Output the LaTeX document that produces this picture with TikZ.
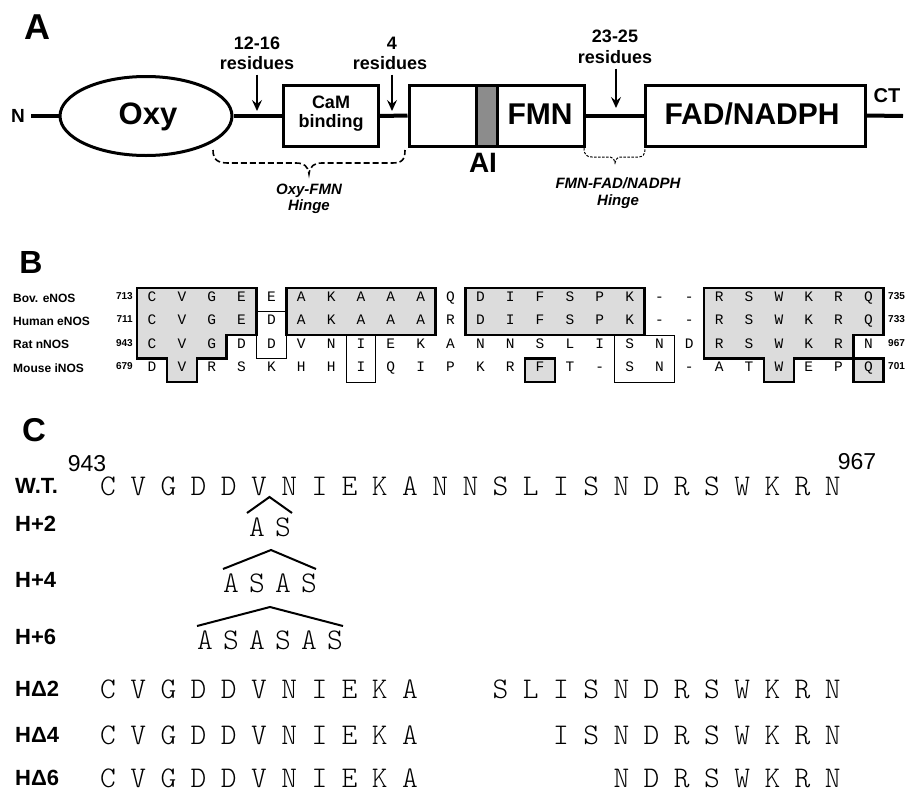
\documentclass[tikz,border=0pt]{standalone}
\usepackage{fontspec}
\setmainfont{Liberation Sans}
\newfontfamily\monoB{Liberation Mono}
\usetikzlibrary{shapes.geometric,arrows.meta}
\definecolor{boxgray}{RGB}{220,220,220}
\definecolor{aigray}{RGB}{140,140,140}
\newcommand\fs[1]{\fontsize{#1}{#1}\selectfont}
\tikzset{
  th/.style={inner sep=0pt, text height={0.72*#1}, text depth=0pt},
  bsf/.style={th=#1, font=\bfseries\fs{#1}},
  isf/.style={th=#1, font=\bfseries\itshape\fs{#1}},
  rsf/.style={th=#1, font=\fs{#1}},
  bb/.style={line width=4pt},
  dom/.style={draw, line width=3pt, fill=white, inner sep=0pt},
  arr/.style={line width=1.5pt, -{Stealth[length=11pt,width=10pt,inset=4pt]}},
  resB/.style={font=\monoB\fs{14.5}, inner sep=0pt, text height=8.2, text depth=0pt, yshift=2.5pt},
  seqC/.style={font=\ttfamily\fontseries{l}\selectfont\fs{30}, inner sep=0pt, text height=18.3, text depth=0pt},
  thickB/.style={line width=2.4pt, line join=miter},
  thinB/.style={line width=1pt},
  rowlab/.style={bsf=12, anchor=west},
  numL/.style={bsf=10, anchor=east},
  numR/.style={bsf=10, anchor=west},
  clab/.style={bsf=22, anchor=west},
  hat/.style={line width=2pt},
}
\begin{document}
\begin{tikzpicture}[x=1pt,y=-1pt]
\useasboundingbox (0,0) rectangle (908,793);

% ---------------- Panel A ----------------
\node[bsf=36] (labA) at (37,27) {A};
\node[bsf=19] (Nterm) at (18,116) {N};
\coordinate (nstart) at (31,116);
\coordinate (cend) at (903,116);

\node[ellipse, draw, line width=3pt, fill=white, minimum width=172pt, minimum height=79pt, inner sep=0pt] (oxy) at (146,116) {};
\node[dom, minimum width=95pt, minimum height=61pt] (cam) at (330.5,116) {};
\node[dom, minimum width=175pt, minimum height=61pt] (fmnbox) at (496.5,115.5) {};
\node[dom, fill=aigray, minimum width=21pt, minimum height=61pt] (aibar) at (486.5,115.5) {};
\node[dom, minimum width=220pt, minimum height=61pt] (fad) at (755,115.5) {};

\draw[bb] (nstart) -- (oxy.west);
\draw[bb] (oxy.east) -- (cam.west);
\draw[bb] (cam.east) -- (fmnbox.west);
\draw[bb] (fmnbox.east) -- (fad.west);
\draw[bb] (fad.east) -- (cend);

\node[bsf=31] (oxyt) at (148,113) {Oxy};
\node[font=\bfseries\fontsize{18}{19}\selectfont, align=center, inner sep=0pt] (camt) at (331,114) {CaM\\binding};
\node[bsf=30] (fmnt) at (540,114) {FMN};
\node[bsf=28] (ait) at (483,162) {AI};
\node[bsf=30] (fadt) at (752,114) {FAD/NADPH};
\node[bsf=20] (ct) at (887,95) {CT};

% residue arrows
\node[bsf=18] (r1a) at (257,43) {12-16};
\node[bsf=18] (r1b) at (257,63) {residues};
\coordinate (r1tip) at (257,111);
\draw[arr] ([yshift=-5pt]r1b.south -| r1tip) -- (r1tip);

\node[bsf=18] (r2a) at (392,43) {4};
\node[bsf=18] (r2b) at (390,63) {residues};
\coordinate (r2tip) at (392,111);
\draw[arr] ([yshift=-5pt]r2b.south -| r2tip) -- (r2tip);

\node[bsf=18] (r3a) at (615,36) {23-25};
\node[bsf=18] (r3b) at (615,57) {residues};
\coordinate (r3tip) at (616,108);
\draw[arr] ([yshift=-5pt]r3b.south -| r3tip) -- (r3tip);

% hinge braces
\draw[line width=1.6pt, dash pattern=on 6pt off 3pt]
  (213,150) .. controls (213,160) and (218,163) .. (228,163) -- (296,163)
  .. controls (304,163) and (308,166) .. (309,174)
  .. controls (310,166) and (314,163) .. (322,163) -- (392,163)
  .. controls (402,163) and (405,160) .. (405,150);
\node[isf=15] (h1a) at (309,189) {Oxy-FMN};
\node[isf=15] (h1b) at (309,205) {Hinge};

\draw[line width=1pt, dash pattern=on 2.5pt off 1.5pt]
  (584,148) .. controls (584,155) and (587,157) .. (592,157) -- (608,157)
  .. controls (612,157) and (614,158) .. (615,163)
  .. controls (616,158) and (618,157) .. (622,157) -- (638,157)
  .. controls (643,157) and (645,155) .. (645,148);
\node[isf=15] (h2a) at (618,183) {FMN-FAD/NADPH};
\node[isf=15] (h2b) at (618,200) {Hinge};

% ---------------- Panel B ----------------
\node[bsf=32] (labB) at (31,262) {B};

\node[rowlab] (lbov) at (13,298) {Bov. eNOS};
\node[rowlab] (lhum) at (13,321) {Human eNOS};
\node[rowlab] (lrat) at (13,344.5) {Rat nNOS};
\node[rowlab] (lmou) at (13,368) {Mouse iNOS};
\node[numL] (nl1) at (133,296) {713};
\node[numL] (nl2) at (133,319) {711};
\node[numL] (nl3) at (133,342.5) {943};
\node[numL] (nl4) at (133,366) {679};
\node[numR] (nr1) at (888,296) {735};
\node[numR] (nr2) at (888,319) {733};
\node[numR] (nr3) at (888,342.5) {967};
\node[numR] (nr4) at (888,366) {701};

\begin{scope}[shift={(137.1pt,-288pt)}, x=29.85pt, y=-23.5pt]
  % gray fills
  \fill[boxgray] (0,0) -- (4,0) -- (4,2) -- (3,2) -- (3,3) -- (2,3) -- (2,4) -- (1,4) -- (1,3) -- (0,3) -- cycle;
  \fill[boxgray] (5,0) rectangle (10,2);
  \fill[boxgray] (11,0) rectangle (17,2);
  \fill[boxgray] (13,3) rectangle (14,4);
  \fill[boxgray] (19,0) -- (25,0) -- (25,2) -- (24,2) -- (24,3) -- (22,3) -- (22,4) -- (21,4) -- (21,3) -- (19,3) -- cycle;
  \fill[boxgray] (24,3) rectangle (25,4);
  % thin identity boxes
  \draw[thinB] (4,1) rectangle (5,3);
  \draw[thinB] (7,2) rectangle (8,4);
  \draw[thinB] (16,2) rectangle (18,4);
  % thick conserved boxes
  \draw[thickB] (0,0) -- (4,0) -- (4,2) -- (3,2) -- (3,3) -- (2,3) -- (2,4) -- (1,4) -- (1,3) -- (0,3) -- cycle;
  \draw[thickB] (5,0) rectangle (10,2);
  \draw[thickB] (11,0) rectangle (17,2);
  \draw[thickB] (13,3) rectangle (14,4);
  \draw[thickB] (19,0) -- (25,0) -- (25,2) -- (24,2) -- (24,3) -- (22,3) -- (22,4) -- (21,4) -- (21,3) -- (19,3) -- cycle;
  \draw[thickB] (24,3) rectangle (25,4);
  % residues
  \foreach \c [count=\i] in {C,V,G,E,E,A,K,A,A,A,Q,D,I,F,S,P,K,-,-,R,S,W,K,R,Q}
    \node[resB] (ba-\i) at (\i-0.5,0.5) {\c};
  \foreach \c [count=\i] in {C,V,G,E,D,A,K,A,A,A,R,D,I,F,S,P,K,-,-,R,S,W,K,R,Q}
    \node[resB] (bb-\i) at (\i-0.5,1.5) {\c};
  \foreach \c [count=\i] in {C,V,G,D,D,V,N,I,E,K,A,N,N,S,L,I,S,N,D,R,S,W,K,R,N}
    \node[resB] (bc-\i) at (\i-0.5,2.5) {\c};
  \foreach \c [count=\i] in {D,V,R,S,K,H,H,I,Q,I,P,K,R,F,T,-,S,N,-,A,T,W,E,P,Q}
    \node[resB] (bd-\i) at (\i-0.5,3.5) {\c};
\end{scope}

% ---------------- Panel C ----------------
\node[bsf=33] (labC) at (34,430) {C};

\node[clab] (cwt) at (15,486) {W.T.};
\node[clab] (ch2) at (15,524) {H+2};
\node[clab] (ch4) at (15,580) {H+4};
\node[clab] (ch6) at (15,637) {H+6};
\node[clab] (cd2) at (15,689) {HΔ2};
\node[clab] (cd4) at (15,735) {HΔ4};
\node[clab] (cd6) at (15,778) {HΔ6};

\node[rsf=23] (n943) at (87,463) {943};
\node[rsf=23] (n967) at (857,461) {967};

\foreach \c [count=\i] in {C,V,G,D,D,V,N,I,E,K,A,N,N,S,L,I,S,N,D,R,S,W,K,R,N}
  \node[seqC] (wt-\i) at ({108+(\i-1)*30.2},486) {\c};

% insertions
\foreach \c [count=\i] in {A,S}
  \node[seqC] (p2-\i) at ({270+(\i-1.5)*26},527) {\c};
\foreach \c [count=\i] in {A,S,A,S}
  \node[seqC] (p4-\i) at ({270+(\i-2.5)*26},583) {\c};
\foreach \c [count=\i] in {A,S,A,S,A,S}
  \node[seqC] (p6-\i) at ({270+(\i-3.5)*26},640) {\c};

\coordinate (h2l) at (247,513); \coordinate (h2t) at (269.5,497); \coordinate (h2r) at (292,513);
\coordinate (h4l) at (223,569); \coordinate (h4t) at (271,550); \coordinate (h4r) at (316,569);
\coordinate (h6l) at (197,626); \coordinate (h6t) at (270,607); \coordinate (h6r) at (343,626);
\draw[hat] (h2l) -- (h2t) -- (h2r);
\draw[hat] (h4l) -- (h4t) -- (h4r);
\draw[hat] (h6l) -- (h6t) -- (h6r);

% deletions
\foreach \y/\nm in {689/d2, 735/d4, 778/d6}{
  \foreach \c [count=\i] in {C,V,G,D,D,V,N,I,E,K,A}
    \node[seqC] (\nm a-\i) at ({108+(\i-1)*30.2},\y) {\c};
}
\foreach \c [count=\i from 14] in {S,L,I,S,N,D,R,S,W,K,R,N}
  \node[seqC] (d2b-\i) at ({108+(\i-1)*30.2},689) {\c};
\foreach \c [count=\i from 16] in {I,S,N,D,R,S,W,K,R,N}
  \node[seqC] (d4b-\i) at ({108+(\i-1)*30.2},735) {\c};
\foreach \c [count=\i from 18] in {N,D,R,S,W,K,R,N}
  \node[seqC] (d6b-\i) at ({108+(\i-1)*30.2},778) {\c};
\end{tikzpicture}
\end{document}
